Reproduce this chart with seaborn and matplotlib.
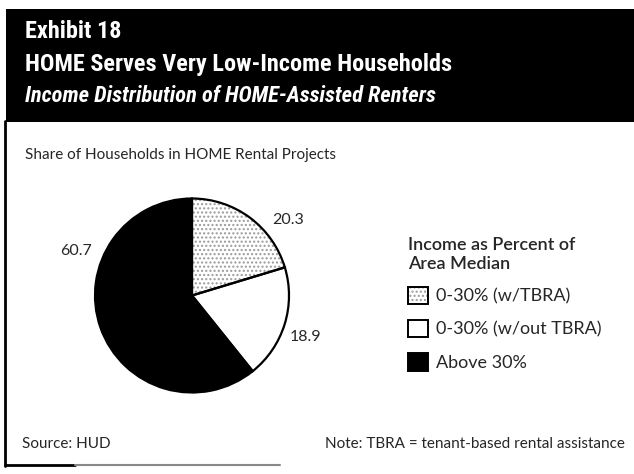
import matplotlib
matplotlib.use('Agg')
import matplotlib.pyplot as plt
from matplotlib.patches import Patch, Rectangle
from matplotlib.lines import Line2D
import seaborn as sns

categories = ['0-30% (w/TBRA)', '0-30% (w/out TBRA)', 'Above 30%']
shares = [20.3, 18.9, 60.7]
value_labels = ['20.3', '18.9', '60.7']
slice_colors = ['white', 'white', 'black']
slice_hatches = ['....', None, None]

exhibit = 'Exhibit 18'
title = 'HOME Serves Very Low-Income Households'
subtitle = 'Income Distribution of HOME-Assisted Renters'
chart_label = 'Share of Households in HOME Rental Projects'
legend_title = 'Income as Percent of\nArea Median'
source = 'Source: HUD'
note = 'Note: TBRA = tenant-based rental assistance'

# label offsets in pie-radius units (layout only)
label_pos = [(0.99, 0.78), (1.17, -0.43), (-1.20, 0.46)]

W, H = 634, 474
HEAD_FONT = ['Roboto Condensed', 'DejaVu Sans']
BODY_FONT = ['Lato', 'DejaVu Sans']

sns.set_style('white')
plt.rcParams['font.family'] = BODY_FONT
plt.rcParams['hatch.color'] = '#9a9a9a'
plt.rcParams['hatch.linewidth'] = 1.0


def px(x, y):
    return x / W, 1 - y / H


fig = plt.figure(figsize=(W / 100, H / 100), dpi=100)
renderer = fig.canvas.get_renderer()


def fit_width(t, target):
    # scale the font so the text spans about `target` pixels
    w = t.get_window_extent(renderer).width
    t.set_fontsize(t.get_fontsize() * target / w)


# black header band and the partial frame
fig.patches.append(Rectangle(px(6, 122), (W - 6) / W, 113 / H, transform=fig.transFigure,
                             facecolor='black', edgecolor='none', zorder=0))
fig.add_artist(Line2D([5 / W, 5 / W], [px(0, 121)[1], px(0, 466)[1]], transform=fig.transFigure,
                      color='black', linewidth=2))
fig.add_artist(Line2D([5 / W, 75 / W], [px(0, 465)[1]] * 2, transform=fig.transFigure,
                      color='black', linewidth=2))
fig.add_artist(Line2D([75 / W, 280 / W], [px(0, 465)[1]] * 2, transform=fig.transFigure,
                      color='#888888', linewidth=1.5))

t1 = fig.text(*px(25, 32), exhibit, color='white', family=HEAD_FONT, fontweight='bold',
              fontsize=18, va='center', ha='left')
t2 = fig.text(*px(25, 64), title, color='white', family=HEAD_FONT, fontweight='bold',
              fontsize=18, va='center', ha='left')
t3 = fig.text(*px(25, 96), subtitle, color='white', family=HEAD_FONT, fontweight='bold',
              style='italic', fontsize=18, va='center', ha='left')
fit_width(t2, 428)
fit_width(t3, 411)
t1.set_fontsize(t2.get_fontsize())

fig.text(*px(25, 155), chart_label, fontsize=11, va='center', ha='left')
fig.text(*px(22, 444), source, fontsize=11, va='center', ha='left')
fig.text(*px(625, 444), note, fontsize=11, va='center', ha='right')

# pie, radius 97 px centred at (192, 295.5)
r_px = 97
side = 2.5 * r_px
ax = fig.add_axes([(192 - side / 2) / W, (H - 295.5 - side / 2) / H, side / W, side / H])
wedges, _ = ax.pie(shares, colors=slice_colors, startangle=90, counterclock=False,
                   wedgeprops=dict(linewidth=0))
for w, h in zip(wedges, slice_hatches):
    if h:
        w.set_hatch(h)
        w.set_edgecolor('#9a9a9a')
ax.pie(shares, startangle=90, counterclock=False,
       wedgeprops=dict(fill=False, edgecolor='black', linewidth=1.6))
for (lx, ly), txt in zip(label_pos, value_labels):
    ax.text(lx, ly, txt, fontsize=11.5, ha='center', va='center')

# legend
outline = Patch(facecolor='none', edgecolor='black', linewidth=1.4)
handles = []
for c, h in zip(slice_colors, slice_hatches):
    if h:
        handles.append((Patch(facecolor=c, hatch=h, edgecolor='#9a9a9a', linewidth=0), outline))
    else:
        handles.append(Patch(facecolor=c, edgecolor='black', linewidth=1.4))
leg = fig.legend(handles, categories, title=legend_title, loc='upper left',
                 bbox_to_anchor=px(408, 237), frameon=False, fontsize=13,
                 title_fontproperties={'size': 13, 'weight': 'semibold'},
                 alignment='left', handlelength=1.1, handleheight=1.1,
                 handletextpad=0.45, labelspacing=0.85, borderaxespad=0, borderpad=0)

fig.savefig('out.png', dpi=100)
